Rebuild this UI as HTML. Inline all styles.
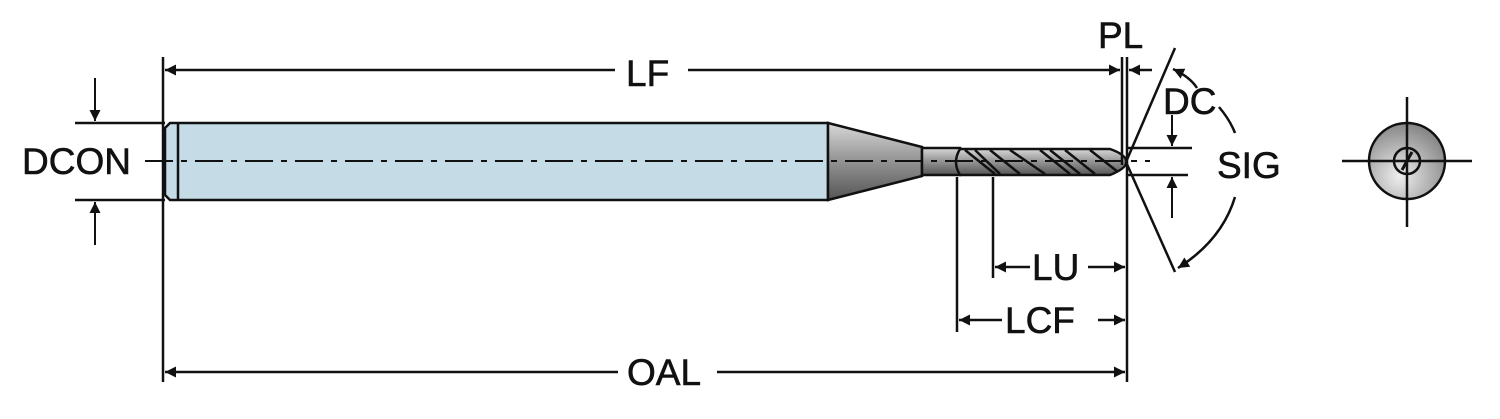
<!DOCTYPE html>
<html><head><style>body{margin:0;background:#fff}svg{display:block}text{font-family:"Liberation Sans",sans-serif;font-size:37px;fill:#111;stroke:#111;stroke-width:0.6}</style></head>
<body>
<svg width="1500" height="419" viewBox="0 0 1500 419">
<defs>
<marker id="a" viewBox="0 0 10 10" refX="10" refY="5" markerWidth="20" markerHeight="11" orient="auto-start-reverse" markerUnits="userSpaceOnUse" ><path d="M0,0L10,5L0,10z" fill="#111" stroke="none"/></marker>
<linearGradient id="g" x1="0" y1="0" x2="0" y2="1"><stop offset="0" stop-color="#d8d8d8"/><stop offset="0.45" stop-color="#999"/><stop offset="1" stop-color="#555"/></linearGradient>
<radialGradient id="r" cx="0.4" cy="0.7" r="0.8"><stop offset="0" stop-color="#eee"/><stop offset="1" stop-color="#777"/></radialGradient>
</defs>
<g stroke="#111" stroke-width="2.5" fill="none">
<path d="M170,123H828V200H170L165,195V128Z" fill="#c5dbe6"/>
<line x1="178" y1="124" x2="178" y2="199"/>
<path d="M828,123L922,147V176L828,200Z" fill="url(#g)"/>
<rect x="922" y="148" width="38" height="27" fill="url(#g)"/>
<path d="M960,149L1110,149Q1127,155 1126,162Q1127,168 1110,175L960,175Q952,162 960,149Z" fill="url(#g)"/>
<g stroke-width="2.5"><path d="M965,150L995,174M990,150L1020,174M1010,150L1045,174M1040,150L1070,174M1065,150L1095,174M1090,150L1118,172M975,150L1000,174M1050,150L1080,174"/></g>
<line x1="145" y1="161" x2="1150" y2="161" stroke-width="2" stroke-dasharray="28,8,6,8"/>
<line x1="163" y1="57" x2="163" y2="382"/>
<line x1="75" y1="123" x2="165" y2="123"/>
<line x1="75" y1="200" x2="165" y2="200"/>
<line x1="95" y1="78" x2="95" y2="121" marker-end="url(#a)" stroke-width="2"/>
<line x1="95" y1="245" x2="95" y2="202" marker-end="url(#a)" stroke-width="2"/>
<line x1="165" y1="70" x2="615" y2="70" marker-start="url(#a)"/>
<line x1="688" y1="70" x2="1120" y2="70" marker-end="url(#a)"/>
<line x1="1122" y1="57" x2="1122" y2="165"/>
<line x1="1127" y1="57" x2="1127" y2="382"/>
<line x1="1152" y1="70" x2="1129" y2="70" marker-end="url(#a)"/>
<line x1="165" y1="372" x2="618" y2="372" marker-start="url(#a)"/>
<line x1="717" y1="372" x2="1125" y2="372" marker-end="url(#a)"/>
<line x1="993" y1="177" x2="993" y2="278"/>
<line x1="957" y1="177" x2="957" y2="332"/>
<line x1="995" y1="267" x2="1030" y2="267" marker-start="url(#a)"/>
<line x1="1088" y1="267" x2="1125" y2="267" marker-end="url(#a)"/>
<line x1="959" y1="320" x2="1002" y2="320" marker-start="url(#a)"/>
<line x1="1098" y1="320" x2="1125" y2="320" marker-end="url(#a)"/>
<line x1="1128" y1="148" x2="1192" y2="148"/>
<line x1="1128" y1="175" x2="1188" y2="175"/>
<line x1="1172" y1="115" x2="1172" y2="146" marker-end="url(#a)" stroke-width="2"/>
<line x1="1172" y1="218" x2="1172" y2="177" marker-end="url(#a)" stroke-width="2"/>
<line x1="1126" y1="162" x2="1175" y2="48"/>
<line x1="1126" y1="162" x2="1175" y2="272"/>
<path d="M1173,69Q1190,77 1197,88" marker-start="url(#a)"/>
<path d="M1219,107Q1230,120 1235,133"/>
<path d="M1235,197Q1222,240 1178,268" marker-end="url(#a)"/>
<circle cx="1407" cy="161" r="38" fill="url(#r)"/>
<circle cx="1407" cy="161" r="13"/>
<line x1="1342" y1="161" x2="1472" y2="161"/>
<line x1="1407" y1="97" x2="1407" y2="227"/>
<line x1="1402" y1="170" x2="1412" y2="152" stroke-width="3"/>
</g>
<text x="626" y="86">LF</text>
<text x="1098" y="48">PL</text>
<text x="1163" y="114">DC</text>
<text x="1217" y="178">SIG</text>
<text x="22" y="174">DCON</text>
<text x="1032" y="280">LU</text>
<text x="1005" y="333">LCF</text>
<text x="627" y="385">OAL</text>
</svg>
</body></html>
